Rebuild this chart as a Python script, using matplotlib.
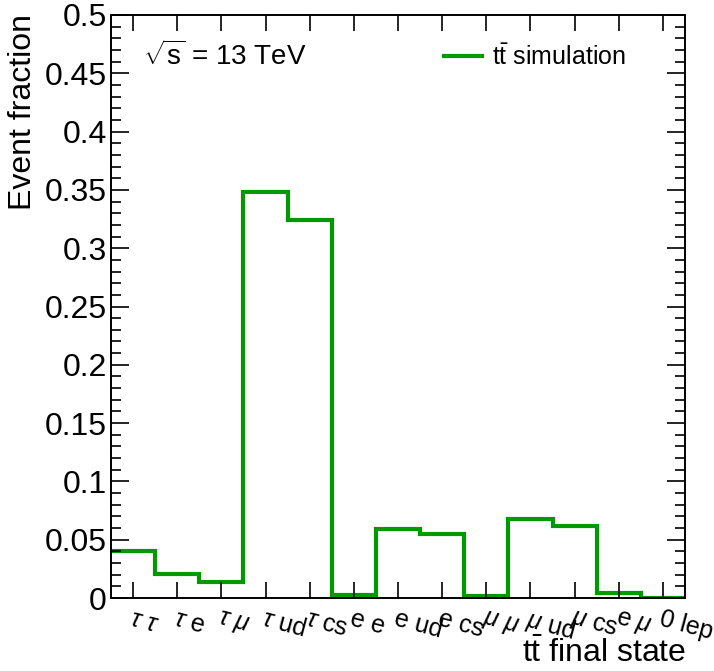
import numpy as np
import matplotlib
matplotlib.use("Agg")
import matplotlib.pyplot as plt
from matplotlib.ticker import MultipleLocator

plt.rcParams["font.family"] = ["Liberation Sans", "DejaVu Sans"]
plt.rcParams["mathtext.fontset"] = "custom"
plt.rcParams["mathtext.rm"] = "Liberation Sans"
plt.rcParams["mathtext.it"] = "Liberation Sans:italic"
plt.rcParams["mathtext.bf"] = "Liberation Sans:bold"

# ttbar final states and the fraction of events in each
states = [r"$\tau$ $\tau$", r"$\tau$ e", r"$\tau$ $\mu$", r"$\tau$ ud", r"$\tau$ cs",
          "e e", "e ud", "e cs", r"$\mu$ $\mu$", r"$\mu$ ud", r"$\mu$ cs",
          r"e $\mu$", "0 lep"]
fractions = [0.040, 0.021, 0.014, 0.348, 0.324, 0.003, 0.059, 0.055,
             0.002, 0.068, 0.062, 0.004, 0.0004]
y_ticks = [0, 0.05, 0.1, 0.15, 0.2, 0.25, 0.3, 0.35, 0.4, 0.45, 0.5]
y_tick_labels = ["0", "0.05", "0.1", "0.15", "0.2", "0.25", "0.3", "0.35",
                 "0.4", "0.45", "0.5"]

W, H = 714, 671
fig = plt.figure(figsize=(W / 100, H / 100), dpi=100)
ax = fig.add_axes([111 / W, 1 - 598 / H, (685 - 111) / W, (598 - 15) / H])

n = len(fractions)
edges = np.arange(n + 1)
green = "#009900"
ax.stairs(fractions, edges, baseline=None, color=green, linewidth=3.0,
          label=r"$\mathrm{t}\bar{\mathrm{t}}$ simulation")

ax.set_xlim(0, n)
ax.set_ylim(0, 0.5)

for s in ax.spines.values():
    s.set_linewidth(1.4)
    s.set_color("black")

centers = edges[:-1] + 0.5
ax.set_xticks(centers)
ax.set_xticklabels(states, rotation=-15, ha="left", va="top",
                   rotation_mode="anchor", fontsize=18)
ax.tick_params(axis="x", which="major", direction="in", length=11.5,
               width=1.2, top=True, bottom=True, pad=6)

ax.set_yticks(y_ticks)
ax.set_yticklabels(y_tick_labels, fontsize=23)
ax.yaxis.set_minor_locator(MultipleLocator(0.01))
ax.tick_params(axis="y", which="major", direction="in", length=13,
               width=1.2, left=True, right=True, pad=3)
ax.tick_params(axis="y", which="minor", direction="in", length=7,
               width=1.2, left=True, right=True)

fig.text(23 / W, 1 - 14 / H, "Event fraction", rotation=90, ha="center",
         va="top", fontsize=23)
fig.text(686 / W, 1 - 662 / H, r"$\mathrm{t}\bar{\mathrm{t}}$ final state",
         ha="right", va="baseline", fontsize=23)
fig.text(143 / W, 1 - 65 / H, r"$\sqrt{\mathrm{s}}$ = 13 TeV",
         ha="left", va="baseline", fontsize=20)

ax.legend(loc="center left", bbox_to_anchor=(444 / W, 1 - 57 / H),
          bbox_transform=fig.transFigure, frameon=False, fontsize=18,
          handlelength=1.5, handletextpad=0.4, borderpad=0, borderaxespad=0)

fig.savefig("out.png", dpi=100)
